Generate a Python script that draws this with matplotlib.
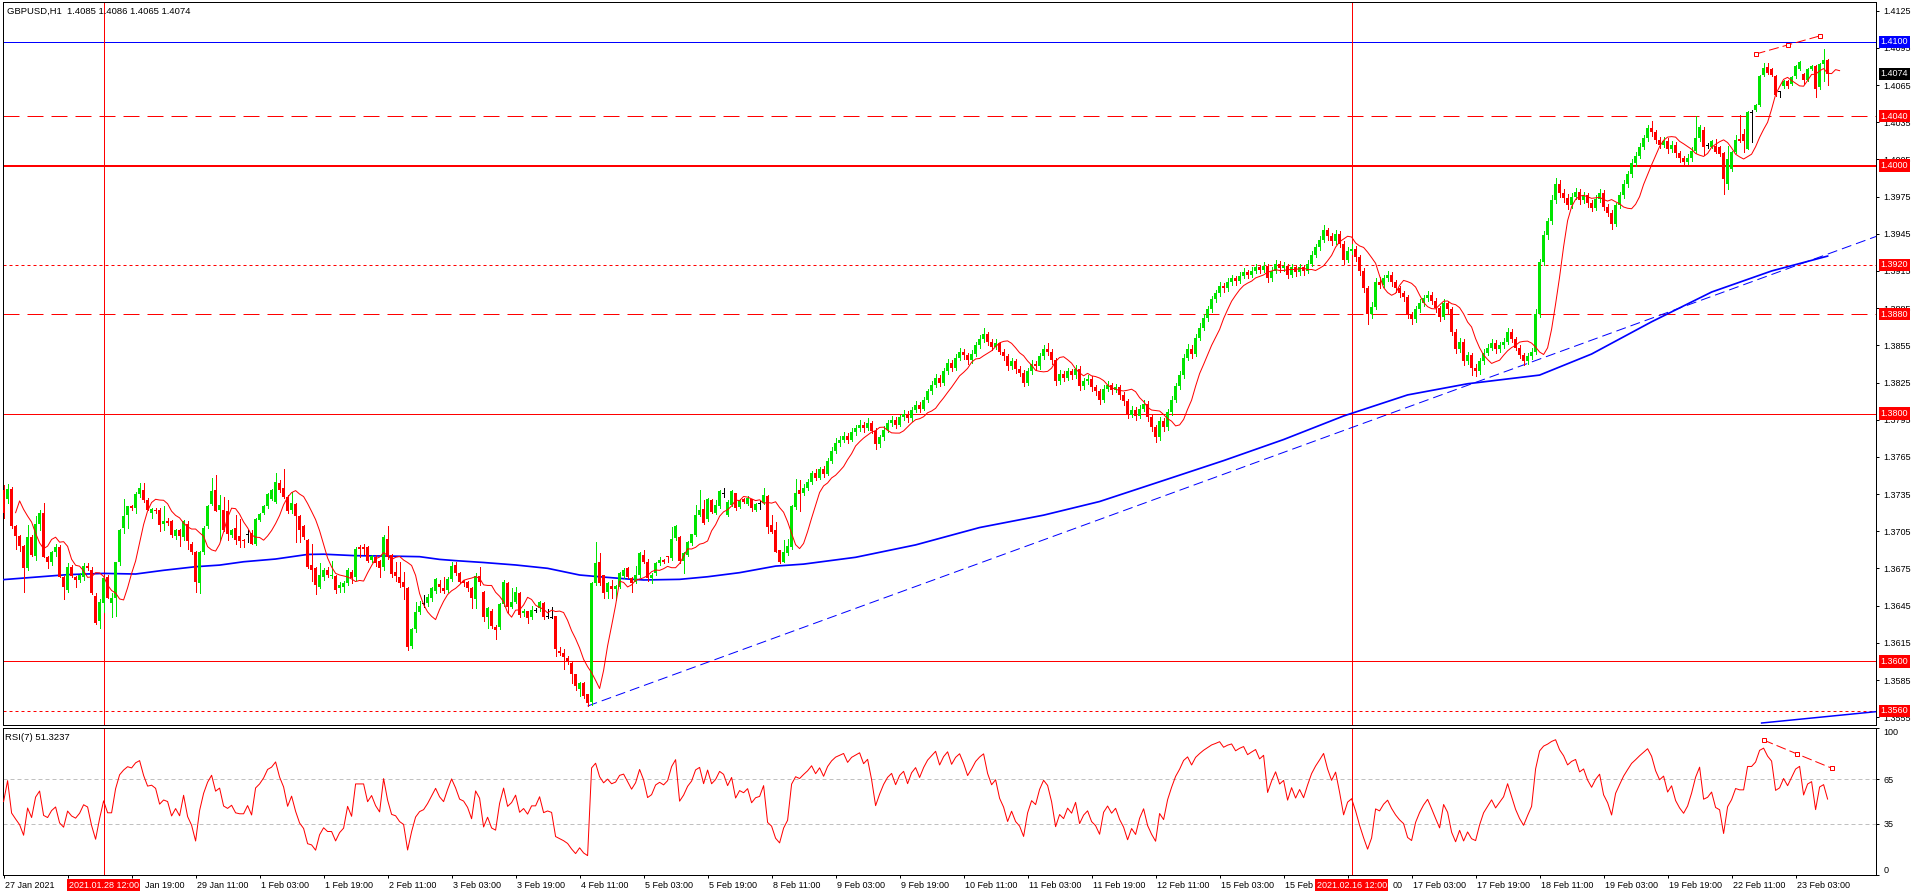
import numpy as np
import pandas as pd
import matplotlib
matplotlib.use("Agg")
import matplotlib.pyplot as plt
import matplotlib.transforms as mtransforms
from matplotlib.ticker import FuncFormatter

plt.rcParams['font.family'] = ['Liberation Sans', 'DejaVu Sans']

# ── データ: GBPUSD H1 (値は 1.3000 からの pips) ────────────────────────────
BASE, PIP = 1.3, 0.0001

OPEN = [
    738, 731, 739, 709, 701, 693, 675, 700, 685, 711,
    720, 684, 680, 688, 692, 668, 658, 676, 668, 666,
    668, 677, 674, 653, 633, 647, 668, 647, 651, 680,
    708, 718, 725, 724, 735, 738, 730, 720, 722, 722,
    711, 713, 713, 701, 706, 700, 711, 695, 688, 663,
    688, 709, 727, 738, 722, 722, 721, 702, 708, 701,
    698, 702, 704, 695, 714, 720, 725, 731, 729, 744,
    740, 733, 722, 727, 717, 709, 698, 678, 675, 660,
    668, 674, 669, 669, 659, 660, 663.5, 672.5, 668, 692,
    692, 692, 681.8, 684.5, 681, 676, 698.5, 686, 672, 668.4,
    664, 659.5, 612.7, 626, 640, 646.8, 646.8, 651, 656.5, 662.5,
    659.5, 657.5, 666.5, 677.8, 671, 665, 663.8, 659, 650.4, 669.2,
    656, 635.5, 641, 628, 627.5, 646.3, 663, 644.1, 648.2, 655.4,
    638.8, 640.6, 635.5, 641.4, 642.8, 647.4, 636.6, 635.5, 636.6, 608.6,
    607, 603, 599, 589.5, 578, 582.3, 573.4, 567.5, 663, 680.4,
    669.7, 656.2, 660.8, 658.1, 660.3, 668.9, 675.1, 667, 664.3, 669.7,
    685.8, 680.4, 667, 671, 679.6, 681.8, 684.5, 683.1, 699.3, 700,
    681.2, 685.8, 695.2, 701.9, 718.1, 722.7, 714.6, 730.2, 720, 725.4,
    735.6, 718.1, 726.2, 735.6, 724.8, 730.7, 727, 730.7, 722.1, 727.5,
    727.5, 733.4, 710, 706, 689.8, 680.4, 687.2, 692, 724.3, 738.3,
    735.6, 740, 745, 752, 748, 755, 751, 762, 770, 776,
    779, 782, 779, 785, 788, 791, 788, 792, 786, 775,
    781, 787, 792, 795, 791, 797, 800, 796, 803, 807,
    804, 811, 818, 823, 829, 825, 834, 841, 837, 845,
    850, 847, 843, 848, 855, 860, 864, 858, 854, 857,
    850, 846, 838, 842, 836, 833, 825, 834, 840, 838,
    846, 852, 850, 843, 826, 832, 829, 834, 831, 836,
    822, 826, 828, 821, 818, 811, 820, 823, 819, 821,
    815, 810, 799, 803, 798, 804, 808, 797, 789, 781,
    794, 789, 801, 811, 822, 831, 845, 852, 848, 861,
    869, 877, 884, 892, 897, 903, 901, 906, 909, 907,
    911, 914, 912, 915, 918, 916, 919, 909, 915, 921,
    917, 919, 912, 918, 914, 918, 915, 921, 928, 934,
    940, 948, 943, 939, 945, 937, 924, 931, 933, 926,
    915, 901, 880, 886, 906, 904, 909, 912, 906, 901,
    897, 894, 880, 876, 884, 889, 893, 896, 891, 885,
    878, 889, 884, 866, 852, 858, 842, 847, 837, 834,
    842, 849, 853, 857, 852, 855, 858, 866, 860, 853,
    847, 842, 846, 850, 880, 922, 944, 955, 972, 985,
    978, 974, 968, 975, 979, 972, 976, 970, 966, 973,
    978, 967, 962, 953, 968, 976, 985, 993, 1002, 1008,
    1015, 1022, 1030, 1027, 1021, 1017, 1020, 1013, 1017, 1010,
    1006, 1003, 1006, 1012, 1022, 1028.5, 1016.3, 1015, 1015.8, 1015,
    1010.4, 985.4, 997.5, 1011, 1021.7, 1025.8, 1013.7, 1043.2, 1044.6, 1048.6,
    1072.8, 1079.6, 1078.2, 1072.3, 1059.4, 1064.2, 1068, 1066.1, 1072.3, 1078.2,
    1074.2, 1068.8, 1078.2, 1080.4, 1063.4, 1082.2, 1085,
]
HIGH = [
    742, 743, 741, 710, 702, 694, 710, 702, 717, 722,
    728, 685, 689, 695, 694, 669, 679, 678, 669, 671,
    679, 679, 676, 655, 650, 668, 670, 655, 680, 707,
    731, 725, 726, 737, 744, 744, 732, 724, 724, 724,
    725, 716, 714, 707, 707, 714, 713, 696, 689, 689,
    709, 726, 748, 750, 734, 733, 730, 707, 718, 715,
    699, 706, 706, 716, 720, 726, 736, 739, 752, 746,
    755, 734, 737, 728, 718, 710, 699, 695, 676, 679,
    675, 676, 681, 670, 664, 665, 675, 674, 692, 694,
    695, 693, 686, 686, 682, 702, 709, 687, 680, 680,
    672, 660, 627, 648, 649, 653.6, 654, 660, 667, 666,
    667.8, 668, 680, 680.5, 672, 666, 665, 660, 671, 675.9,
    657, 644, 642, 629, 647, 665.7, 664, 659, 660.3, 656,
    642, 641, 644.7, 643, 649, 648, 642.3, 644.1, 637, 612,
    609.7, 604, 600, 590, 583, 583, 574, 664, 696.6, 687.2,
    670, 664, 665.7, 662, 672.4, 675, 676, 668, 677, 688.5,
    689.9, 683, 671, 680, 683.9, 683, 685, 708.7, 710, 701,
    688, 697, 703, 726.2, 738.3, 730.2, 731.5, 731, 730.2, 738,
    740, 730.2, 738, 736, 731, 732, 733.4, 731, 727.5, 729.6,
    739.6, 734, 718.1, 712.7, 690, 697.9, 698.4, 726, 746.9, 746.3,
    743.1, 747, 754, 755, 757, 758, 764, 773, 780, 782,
    785, 784, 788, 791, 795, 793, 796, 794, 788, 783,
    790, 795, 798, 797, 799, 803, 802, 805, 810, 809,
    813, 820, 826, 832, 831, 837, 844, 843, 848, 853,
    852, 849, 851, 858, 863, 869, 866, 860, 860, 858,
    852, 848, 845, 844, 838, 835, 837, 843, 842, 849,
    855, 857, 852, 845, 835, 834, 837, 836, 839, 838,
    829, 831, 830, 823, 820, 823, 826, 825, 824, 823,
    817, 812, 806, 805, 807, 811, 810, 799, 791, 797,
    796, 804, 814, 825, 834, 848, 856, 855, 864, 873,
    880, 887, 895, 900, 906, 905, 909, 912, 911, 914,
    917, 916, 918, 921, 920, 922, 921, 918, 924, 923,
    922, 921, 921, 920, 921, 920, 924, 931, 937, 943,
    952, 950, 946, 948, 947, 939, 934, 937, 935, 928,
    917, 903, 890, 909, 910, 912, 915, 914, 908, 903,
    899, 896, 882, 887, 892, 896, 899, 898, 893, 887,
    892, 891, 886, 868, 861, 860, 850, 849, 840, 845,
    852, 856, 860, 859, 858, 861, 869, 868, 862, 855,
    849, 849, 853, 884, 925, 947, 958, 976, 990, 988,
    981, 977, 978, 982, 981, 979, 978, 972, 976, 981,
    980, 969, 964, 970, 979, 988, 996, 1005, 1011, 1018,
    1025, 1033, 1036, 1029, 1023, 1023, 1022, 1020, 1019, 1012,
    1008, 1009, 1015, 1040, 1033, 1031, 1018, 1021, 1021.7, 1016,
    1011, 1016, 1012, 1024.4, 1040.6, 1029.8, 1044, 1044.6, 1050, 1073,
    1082.8, 1082.8, 1079, 1073, 1060, 1069, 1069, 1072, 1081, 1084,
    1075, 1079, 1081, 1081, 1083, 1094.3, 1086,
]
LOW = [
    716, 728, 708, 691, 689, 656, 674, 685, 682, 706,
    684, 675, 678, 685, 668, 650, 656, 668, 660, 664,
    666, 674, 654, 630, 627, 640, 651, 636, 637, 678,
    704, 708, 722, 720, 733, 729, 722, 716, 720, 705,
    706, 710, 700, 699, 693, 698, 691, 687, 656, 655,
    687, 708, 726, 721, 698, 705, 698, 700, 695, 692,
    692, 696, 695, 694, 713, 719, 724, 730, 728, 737,
    732, 720, 720, 696, 696, 699, 675, 665, 654, 659,
    666, 668, 667, 655, 656, 656, 662, 663, 666, 684,
    687, 680, 680, 677, 668, 674, 683, 668, 665, 660,
    650, 609, 611, 624, 638, 644, 645, 649, 655, 656,
    655, 656, 665, 670, 663, 661, 657, 642.8, 642.8, 662,
    633, 627, 627, 617.8, 626, 645, 638.8, 643, 647, 636,
    637, 630.7, 634, 640, 641, 634, 635, 634.7, 604.3, 605,
    593.6, 598, 582.3, 576.9, 572, 570.7, 564, 565, 662, 662,
    650.9, 650.9, 650.9, 649.5, 659, 667, 667, 656.2, 663, 668,
    679, 665, 663.5, 670, 678, 679, 680, 682, 698, 679,
    671, 685, 694, 701, 717, 711, 713, 720, 719, 724,
    733, 717, 725, 722.1, 724, 728, 726, 721.6, 721, 722.7,
    727, 704, 704, 688, 679, 680, 686, 691, 723, 721.6,
    734, 738, 743, 746, 747, 749, 750, 760, 768, 774,
    777, 776, 778, 783, 786, 785, 787, 784, 771, 773,
    779, 785, 790, 788, 790, 795, 793, 794, 801, 801,
    803, 809, 816, 821, 822, 823, 832, 834, 835, 843,
    844, 840, 841, 846, 853, 858, 855, 851, 852, 848,
    843, 835, 836, 833, 830, 822, 823, 832, 835, 836,
    844, 847, 840, 823, 824, 826, 827, 828, 829, 819,
    820, 824, 818, 815, 808, 809, 818, 816, 817, 812,
    807, 796, 797, 795, 796, 802, 794, 786, 777, 779,
    786, 787, 799, 809, 820, 829, 843, 845, 846, 859,
    867, 875, 882, 890, 895, 898, 899, 904, 904, 905,
    909, 909, 910, 913, 913, 914, 906, 907, 913, 914,
    915, 909, 910, 911, 912, 912, 913, 919, 926, 932,
    938, 940, 936, 937, 934, 921, 922, 929, 923, 912,
    898, 872, 877, 884, 901, 902, 907, 903, 898, 894,
    891, 877, 872, 874, 882, 887, 891, 888, 882, 875,
    876, 881, 863, 849, 850, 839, 840, 831, 830, 832,
    840, 847, 851, 849, 850, 853, 856, 858, 851, 845,
    839, 840, 844, 848, 878, 920, 941, 953, 970, 975,
    971, 965, 966, 973, 969, 970, 967, 963, 964, 971,
    964, 959, 949, 951, 966, 974, 983, 991, 1000, 1006,
    1013, 1020, 1024, 1018, 1014, 1015, 1010, 1011, 1007, 1003,
    1000, 1001, 1004, 1010, 1020, 1008.3, 1014, 1014, 1010, 1008,
    977.3, 981.4, 996, 1010, 1019, 1011, 1013, 1019, 1044, 1048,
    1072, 1074, 1072, 1056, 1055.3, 1063, 1063, 1065, 1071, 1077,
    1066.1, 1068, 1077, 1055.3, 1062, 1068.3, 1065,
]
CLOSE = [
    720, 739, 709, 701, 693, 675, 700, 686, 711, 720,
    684, 680, 688, 692, 668, 660, 676, 669, 666, 670,
    677, 675, 655, 631, 648, 667, 651, 651, 680, 706,
    717, 725, 724, 735, 740, 730, 722, 723, 721, 710,
    713, 712, 702, 706, 701, 713, 697, 688, 664, 688,
    708, 725, 737.5, 721.6, 726, 706, 703, 706, 698, 697,
    697, 702, 695, 715, 719, 725, 735, 738, 745, 738,
    733, 721, 728, 717, 706, 700, 676, 673.5, 661.6, 670,
    674, 669.5, 669.5, 658, 661.6, 663.5, 674, 667, 691, 691,
    691, 681, 685, 679, 675, 700, 684.5, 670.5, 669, 663,
    660, 611.3, 625.9, 639.6, 645, 646.8, 652.2, 659, 666.5, 660.3,
    656.8, 666.5, 677, 671.6, 664.3, 663, 659, 650.9, 669.2, 664.3,
    635.6, 642.8, 628.5, 625.3, 646.3, 663.8, 644.1, 648.2, 656.2, 637.4,
    640.9, 634.7, 641.4, 641.4, 648.2, 635.5, 636.6, 635.5, 609.7, 606.5,
    603.3, 599.2, 589.8, 580, 582.3, 572.3, 566.1, 663, 679.1, 663,
    655.4, 663, 658.1, 660.8, 671.6, 673.7, 668.3, 663, 669.7, 687.2,
    680.4, 667, 669.7, 679.1, 681.8, 680.4, 683.9, 698.7, 709.2, 681.2,
    687.2, 696.6, 702.7, 718.1, 722.1, 711.9, 730.7, 720.8, 726.2, 737.4,
    735.6, 728.8, 737.4, 723.5, 730.2, 728.8, 732, 723.5, 726.7, 727.5,
    734.2, 708.7, 704.6, 688.5, 680.4, 688.5, 693.1, 725.4, 736.1, 734.8,
    740.1, 745, 752, 748, 755, 751, 762, 770, 776, 779,
    782, 779, 785, 788, 791, 788, 792, 786, 775, 781,
    787, 792, 795, 791, 797, 800, 796, 803, 807, 804,
    811, 818, 823, 829, 825, 834, 841, 837, 845, 850,
    847, 843, 848, 855, 860, 864, 858, 854, 857, 850,
    846, 838, 842, 836, 833, 825, 834, 840, 838, 846,
    852, 850, 843, 826, 832, 829, 834, 831, 836, 822,
    826, 828, 821, 818, 811, 820, 823, 819, 821, 815,
    810, 799, 803, 798, 804, 808, 797, 789, 781, 794,
    789, 801, 811, 822, 831, 845, 852, 848, 861, 869,
    877, 884, 892, 897, 903, 901, 906, 909, 907, 911,
    914, 912, 915, 918, 916, 919, 909, 915, 921, 917,
    919, 912, 918, 914, 918, 915, 921, 928, 934, 940,
    948, 943, 939, 945, 937, 924, 931, 933, 926, 915,
    901, 880, 886, 906, 904, 909, 912, 906, 901, 897,
    894, 880, 876, 884, 889, 893, 896, 891, 885, 878,
    889, 884, 866, 852, 858, 842, 847, 837, 834, 842,
    849, 853, 857, 852, 855, 858, 866, 860, 853, 847,
    842, 846, 850, 880, 922, 944, 955, 972, 985, 978,
    974, 968, 975, 979, 972, 976, 970, 966, 973, 978,
    967, 962, 953, 968, 976, 985, 993, 1002, 1008, 1015,
    1022, 1030, 1027, 1021, 1017, 1020, 1013, 1017, 1010, 1006,
    1003, 1006, 1012, 1022, 1031, 1015, 1016.3, 1019.6, 1011, 1009.6,
    989.5, 1005.6, 1011, 1020.4, 1019.6, 1019.6, 1043.2, 1043.2, 1049.2, 1072.3,
    1078.7, 1075, 1072.8, 1057.2, 1059.4, 1068, 1064.2, 1071.5, 1080.4, 1083.6,
    1068.8, 1078.2, 1080.4, 1061.5, 1082.2, 1084.9, 1074,
]

# 長期移動平均 (青線) を目で読んだ点
MA_BARS = [0, 8, 16, 25, 33, 40, 48, 54, 60, 68, 76, 80, 88, 96, 104, 109, 113,
           120, 128, 136, 144, 149, 156, 160, 169, 176, 184, 193, 200, 213, 228,
           244, 260, 274, 290, 305, 320, 335, 351, 366, 384, 397, 412, 427, 442, 456]
MA_VALS = [666, 668, 670, 671, 670.5, 673.5, 676.4, 677.7, 680.4, 682.6, 686.3,
           686.5, 685.3, 685, 684.5, 682.3, 681.3, 679.8, 677.8, 675.1, 669.7,
           668.3, 666.5, 665.7, 666.2, 668.3, 671.6, 676.9, 678.5, 684, 694,
           708, 718, 729, 746, 762, 779, 798, 815, 824, 831, 848, 874, 898, 915, 927]

TIME_LABELS = ['27 Jan 2021', '28 Jan 03:00', '28 Jan 19:00', '29 Jan 11:00',
               '1 Feb 03:00', '1 Feb 19:00', '2 Feb 11:00', '3 Feb 03:00',
               '3 Feb 19:00', '4 Feb 11:00', '5 Feb 03:00', '5 Feb 19:00',
               '8 Feb 11:00', '9 Feb 03:00', '9 Feb 19:00', '10 Feb 11:00',
               '11 Feb 03:00', '11 Feb 19:00', '12 Feb 11:00', '15 Feb 03:00',
               '15 Feb 19:00', '16 Feb 11:00', '17 Feb 03:00', '17 Feb 19:00',
               '18 Feb 11:00', '19 Feb 03:00', '19 Feb 19:00', '22 Feb 11:00',
               '23 Feb 03:00']
LABEL_STEP = 16
VLINE_BARS = [25, 337]
VLINE_TEXT = ['2021.01.28 12:00', '2021.02.16 12:00']
# 赤い日時ボックスに隠れる目盛ラベル: 見えている部分だけ
LABEL_VISIBLE = {1: None, 2: 'Jan 19:00', 20: '15 Feb', 21: '00'}

LEVELS = [1.4100, 1.4040, 1.4000, 1.3920, 1.3880, 1.3800, 1.3600, 1.3560]
LAST_PRICE = 1.4074
TREND_UP_X, TREND_UP_Y = [146, 468.25], [1.3564, 1.3943]
TREND_LOW_X, TREND_LOW_Y = [439.5, 468.25], [1.35503, 1.35595]
PEAK_X, PEAK_Y = [438, 446, 454], [1.40900, 1.40973, 1.41046]
RSI_PEAK_X, RSI_PEAK_Y = [440, 448.4, 457], [91.8, 82.3, 72.7]

# ── スタイル ────────────────────────────────────────────────────────────────
BULL, BEAR, DOJI = '#00e400', '#ff0000', '#000000'
RED, BLUE = '#ff0000', '#0000ff'
PX = 0.72  # 1 px (pt)
LEVEL_STYLE = {
    1.4100: dict(color=BLUE, lw=PX, ls='-'),
    1.4040: dict(color=RED, lw=PX, ls=(0, (16, 8))),
    1.4000: dict(color=RED, lw=2 * PX, ls='-'),
    1.3920: dict(color=RED, lw=PX, ls=(0, (3, 3))),
    1.3880: dict(color=RED, lw=PX, ls=(0, (16, 8))),
    1.3800: dict(color=RED, lw=PX, ls='-'),
    1.3600: dict(color=RED, lw=PX, ls='-'),
    1.3560: dict(color=RED, lw=PX, ls=(0, (3, 3))),
}
FS = 6.5

o = np.array(OPEN) * PIP + BASE
h = np.array(HIGH) * PIP + BASE
l = np.array(LOW) * PIP + BASE
c = np.array(CLOSE) * PIP + BASE
n = min(len(o), len(h), len(l), len(c))
o, h, l, c = o[:n], h[:n], l[:n], c[:n]
x = np.arange(n)

# ── 指標 ────────────────────────────────────────────────────────────────────
ma5 = pd.Series(c).rolling(5, min_periods=1).mean().to_numpy()   # SMA(5), shift 3
d = np.diff(c, prepend=c[0])
gain, loss = np.clip(d, 0, None), np.clip(-d, 0, None)
ag, al = np.zeros(n), np.zeros(n)
ag[0] = al[0] = 4 * PIP          # 表示範囲より前の値は未知なので中立から開始
for i in range(1, n):
    ag[i] = (ag[i - 1] * 6 + gain[i]) / 7
    al[i] = (al[i - 1] * 6 + loss[i]) / 7
rsi = 100 * ag / (ag + al)

# ── レイアウト ───────────────────────────────────────────────────────────────
W, H = 1916, 896
fig = plt.figure(figsize=(W / 100, H / 100), dpi=100)
fig.patch.set_facecolor('white')


def px_box(x0, y0, x1, y1):
    return [x0 / W, 1 - y1 / H, (x1 - x0) / W, (y1 - y0) / H]


ax = fig.add_axes(px_box(2.5, 2, 1876, 724.5))
axr = fig.add_axes(px_box(2.5, 728, 1876, 875))
XLIM = (-0.275, 468.1)
BAR_PX = 1873.5 / (XLIM[1] - XLIM[0])
for a in (ax, axr):
    a.set_xlim(*XLIM)
    for s in a.spines.values():
        s.set_linewidth(PX)
        s.set_color('black')
ax.set_ylim(BASE + 549.1 * PIP, BASE + 1132.0 * PIP)
axr.set_ylim(0, 100)

# ── メインチャート ───────────────────────────────────────────────────────────
for lv in LEVELS:
    ax.axhline(lv, zorder=2, **LEVEL_STYLE[lv])
for vb in VLINE_BARS:
    ax.axvline(vb, color=RED, lw=PX, zorder=2)
    axr.axvline(vb, color=RED, lw=PX, zorder=2)

ax.plot(MA_BARS, np.array(MA_VALS) * PIP + BASE, color=BLUE, lw=1.7 * PX, zorder=3)
ax.plot(TREND_UP_X, TREND_UP_Y, color=BLUE, lw=PX, ls=(0, (10, 5)), zorder=3)
ax.plot(TREND_LOW_X, TREND_LOW_Y, color=BLUE, lw=1.5 * PX, zorder=3)

up = c > o
dn = c < o
dj = ~(up | dn)
MIN_H = 0.8 * PIP
for mask, col in ((up, BULL), (dn, BEAR), (dj, DOJI)):
    ax.vlines(x[mask], l[mask], h[mask], color=col, lw=PX, zorder=4,
              antialiased=False)
    hgt = np.maximum(np.abs(c - o), MIN_H)[mask]
    bot = np.minimum(o, c)[mask]
    if col == DOJI:
        bot = bot - MIN_H / 2
    ax.bar(x[mask], hgt, bottom=bot, width=0.8, color=col, lw=0, zorder=5,
           antialiased=False)

ax.plot(x + 3, ma5, color=RED, lw=PX, zorder=6)

ax.plot(PEAK_X, PEAK_Y, color=RED, lw=PX, ls=(0, (10, 4)), zorder=6)
ax.plot(PEAK_X, PEAK_Y, ls='none', marker='s', ms=3.2, mfc='white', mec=RED,
        mew=PX, zorder=7)

ax.yaxis.tick_right()
ax.set_yticks(np.arange(1.3555, 1.41251, 0.003))
ax.yaxis.set_major_formatter(FuncFormatter(lambda v, _: f'{v:.4f}'))
ax.tick_params(axis='y', direction='out', length=2.5, width=PX, pad=3,
               labelsize=FS, colors='black')
ax.tick_params(axis='x', bottom=False, labelbottom=False)

tr = mtransforms.blended_transform_factory(ax.transAxes, ax.transData)
BOX_COL = {1.4100: BLUE, LAST_PRICE: 'black'}
for lv in LEVELS + [LAST_PRICE]:
    ax.text(1 + 4.5 / 1873.5, lv, f'{lv:.4f}', transform=tr, ha='left', va='center',
            fontsize=FS, color='white', clip_on=False, zorder=10,
            bbox=dict(boxstyle='square,pad=0.18', fc=BOX_COL.get(lv, RED), ec='none'))

fig.text(7 / W, 1 - 11 / H, 'GBPUSD,H1  1.4085 1.4086 1.4065 1.4074',
         fontsize=6.8, va='center', ha='left', color='black')

# ── RSI ─────────────────────────────────────────────────────────────────────
for lv in (65, 35):
    axr.axhline(lv, color='#c0c0c0', lw=PX, ls=(0, (4, 3)), zorder=1)
axr.plot(x, rsi, color=RED, lw=PX, zorder=3)
axr.plot(RSI_PEAK_X, RSI_PEAK_Y, color=RED, lw=PX, ls=(0, (10, 4)), zorder=4)
axr.plot(RSI_PEAK_X, RSI_PEAK_Y, ls='none', marker='s', ms=3.2, mfc='white',
         mec=RED, mew=PX, zorder=5)
axr.yaxis.tick_right()
axr.set_yticks([0, 35, 65, 100])
axr.set_yticklabels(['0', '35', '65', '100'])
axr.tick_params(axis='y', direction='out', length=2.5, width=PX, pad=3,
                labelsize=FS, colors='black')
ylab = axr.get_yticklabels()
ylab[0].set_va('bottom')
ylab[3].set_va('top')
fig.text(5 / W, 1 - 737 / H, 'RSI(7) 51.3237', fontsize=6.8, va='center',
         ha='left', color='black')

# 時間軸
tick_pos = np.arange(len(TIME_LABELS)) * LABEL_STEP
axr.set_xticks(tick_pos)
axr.tick_params(axis='x', direction='out', length=2.5, width=PX, labelbottom=False)
trx = mtransforms.blended_transform_factory(axr.transData, fig.transFigure)
BOX_HALF = 40 / BAR_PX   # 日時ボックスの半幅 (bar 単位)
for k, (pos, lab) in enumerate(zip(tick_pos, TIME_LABELS)):
    shown = LABEL_VISIBLE.get(k, lab)
    if shown is None:
        continue
    xpos = pos + 0.4
    if shown != lab and not lab.startswith(shown):
        # 先頭がボックスに隠れている → そのボックスの右端から表示
        near = min(VLINE_BARS, key=lambda vb: abs(vb - pos))
        xpos = near + BOX_HALF + 0.3
    axr.text(xpos, 1 - 885 / H, shown, transform=trx, ha='left', va='center',
             fontsize=FS, color='black', clip_on=False, zorder=8)
for vb, lab in zip(VLINE_BARS, VLINE_TEXT):
    axr.text(vb, 1 - 885 / H, lab, transform=trx, ha='center', va='center',
             fontsize=FS, color='white', clip_on=False, zorder=10,
             bbox=dict(boxstyle='square,pad=0.2', fc=RED, ec='none'))

fig.savefig('out.png', dpi=100, facecolor='white')
